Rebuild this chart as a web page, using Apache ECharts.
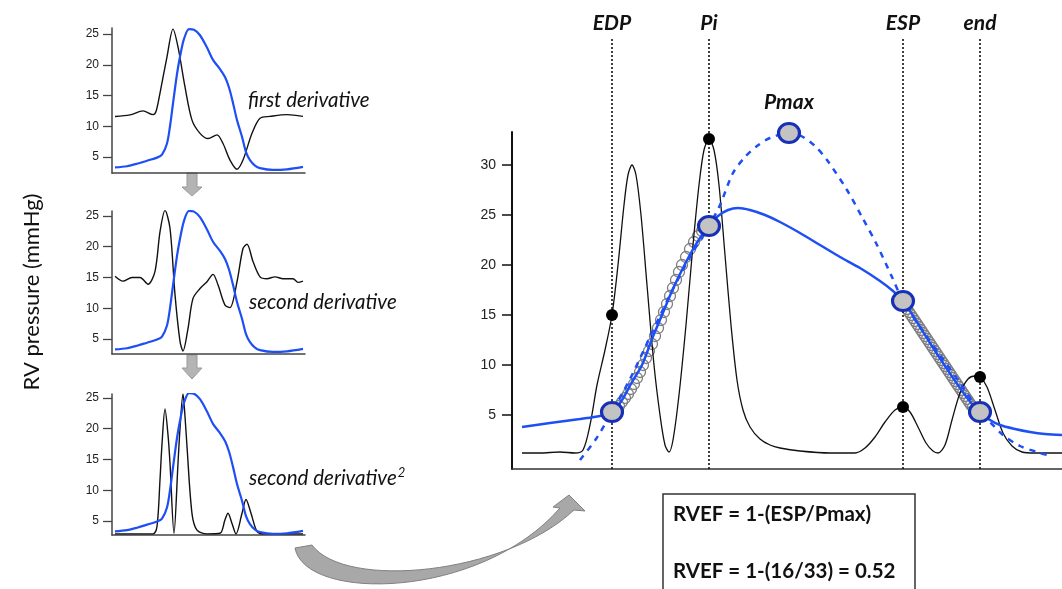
<!DOCTYPE html>
<html>
<head>
<meta charset="utf-8">
<script src="https://cdn.jsdelivr.net/npm/echarts@6/dist/echarts.min.js"></script>
<style>
html,body{margin:0;padding:0;background:#fff;}
#c{width:1062px;height:589px;}
</style>
</head>
<body>
<div id="c"></div>
<script>
// ---------- DATA ----------
// small panels: x = sample position, y = mmHg
const smallTicks = [5, 10, 15, 20, 25];
const pressureSmall = [[3,3.3],[15,3.5],[25,3.9],[35,4.4],[45,4.9],[50,5.4],[55,7.2],[58,10],[61,13.7],[65,18.5],[68,21.3],[72,24.2],[77,25.8],[82,25.7],[88,24.8],[95,22.8],[101,20.8],[108,19.3],[113,18.0],[117,16.3],[121,13.8],[125,11],[130,8.3],[134,5.8],[138,4.5],[143,3.6],[148,3.2],[161,2.9],[175,3.0],[191,3.4]];
const firstDeriv = [[3,11.6],[18,11.85],[31,12.5],[41,11.9],[44,12.4],[48,15.4],[55,21.3],[61,25.8],[66,22.9],[73,16.4],[80,11.0],[88,8.85],[96,8.0],[105,8.6],[111,7.2],[118,4.5],[125,3.0],[131,4.5],[140,8.85],[148,11.3],[158,11.6],[175,11.9],[191,11.6]];
const secondDeriv = [[3,15.2],[11,14.4],[20,15.0],[28,15.0],[36,13.9],[43,16.0],[48,22.4],[53,25.9],[58,23.0],[63,12.2],[68,4.6],[71,3.05],[76,6.7],[81,11.6],[88,13.2],[95,14.3],[101,15.5],[106,13.8],[113,10.5],[118,10.1],[125,14.3],[131,19.7],[135,20.4],[141,17.6],[148,15.1],[155,14.8],[163,15.1],[171,14.8],[181,14.8],[186,14.2],[191,14.4]];
const secondDerivSq = [[3,2.9],[41,2.9],[45,4.1],[48,11.7],[50,17.5],[53,23.2],[56,19],[58,14.4],[62,3.0],[66,14.4],[68,20],[71,25.65],[73,22],[75,17.1],[80,6.2],[85,3.5],[95,2.9],[108,3.0],[113,5.2],[116,6.25],[120,4.6],[124,2.9],[130,6.25],[134,8.5],[139,6.25],[145,3.3],[151,2.9],[191,2.9]];

// main panel
const mainTicks = [5, 10, 15, 20, 25, 30];
const mainBlack = [[10,1.2],[28,1.2],[48,1.3],[63,1.2],[71,1.5],[78,4],[85,8],[93,11.5],[100,15],[106,20],[112,26],[116,29],[120,30],[124,29],[129,25],[135,18],[142,10],[148,5],[153,2],[157,1.3],[161,2.5],[167,7],[174,14],[181,22],[187,28],[192,31.5],[197,32.6],[202,31.5],[207,28],[213,21],[219,14],[225,8.5],[231,5.5],[238,3.8],[248,2.6],[258,2.0],[268,1.7],[288,1.4],[318,1.2],[343,1.2],[353,1.7],[363,2.8],[373,4.3],[383,5.5],[391,5.8],[398,5.3],[406,3.8],[414,2.2],[421,1.4],[426,1.2],[433,2.0],[440,4.5],[448,7.2],[456,8.6],[463,8.9],[468,8.8],[475,7.8],[483,5.5],[491,3.2],[500,1.9],[510,1.3],[523,1.2],[550,1.2]];
const mainPressure = [[10,3.8],[38,4.2],[68,4.6],[88,4.9],[100,5.3],[110,6.5],[120,8.3],[130,10.0],[140,12.6],[150,15.0],[160,17.4],[170,19.5],[180,21.4],[190,23.0],[197,23.9],[206,24.9],[216,25.5],[226,25.7],[238,25.5],[253,25.0],[268,24.3],[288,23.2],[308,22.0],[328,20.8],[348,19.7],[368,18.4],[381,17.4],[391,16.4],[403,14.6],[418,12.2],[433,9.9],[448,7.7],[460,6.1],[468,5.3],[478,4.5],[488,4.0],[503,3.6],[518,3.3],[533,3.1],[550,3.0]];
const fitCurve = [[68,0.5],[84,2.6],[100,5.3],[118,8.6],[138,12.8],[158,17.0],[178,20.8],[197,23.9],[208,26.0],[221,29.2],[233,30.8],[245,31.9],[258,32.7],[277,33.2],[291,32.8],[303,31.9],[315,30.5],[335,27.5],[350,24.8],[365,22.0],[380,18.8],[391,16.4],[408,13.8],[428,11.0],[448,8.2],[468,5.3],[478,4.3],[491,3.0],[508,1.9],[528,1.2],[540,0.9]];
const fitPointsUp = [[101,5.3],[104,5.6],[107,5.9],[110,6.3],[113,6.7],[116,7.1],[119,7.6],[122,8.1],[125,8.7],[128,9.3],[131,10.0],[134,10.7],[137,11.4],[140,12.1],[143,12.9],[146,13.7],[149,14.5],[152,15.3],[155,16.1],[158,16.9],[161,17.7],[164,18.5],[167,19.3],[170,20.0],[174,20.8],[178,21.6],[182,22.3],[186,22.9],[190,23.4],[194,23.8]];
const fitPointsDown = [[393,16.0],[395,15.6],[397,15.3],[399,15.0],[401,14.7],[403,14.4],[405,14.1],[407,13.8],[409,13.5],[411,13.2],[413,12.9],[415,12.6],[417,12.3],[419,12.0],[421,11.7],[423,11.4],[425,11.1],[427,10.8],[429,10.5],[431,10.2],[433,9.9],[435,9.6],[437,9.3],[439,9.0],[441,8.7],[443,8.4],[445,8.1],[447,7.8],[449,7.5],[451,7.2],[453,6.9],[455,6.6],[457,6.3],[459,6.0],[461,5.8],[463,5.6],[465,5.4]];
const derivPeaks = [[100,15],[197,32.6],[391,5.8],[468,8.8]];
const keyPoints = [
  {name:'EDP', value:[100,5.3]},
  {name:'Pi', value:[197,23.9]},
  {name:'Pmax', value:[277,33.2]},
  {name:'ESP', value:[391,16.4]},
  {name:'end', value:[468,5.3]}
];
const markerNames = ['EDP','Pi','ESP','end'];
const markerX = [100, 197, 391, 468];

// ---------- CHART ----------
const BLUE = '#1e4ff5';
const chart = echarts.init(document.getElementById('c'), null, {renderer:'canvas'});

const smallGrids = [
  {left:112, top:28, width:193, height:145, min:2.4, max:25.98},
  {left:112, top:211, width:193, height:143, min:2.56, max:25.8},
  {left:112, top:394, width:193, height:141, min:2.72, max:25.65}
];
const grids = smallGrids.map(g => ({left:g.left, top:g.top, width:g.width, height:g.height}));
grids.push({left:512, top:132, width:550, height:337});
grids.push({left:512, top:38, width:550, height:431});

const xAxes = [], yAxes = [];
smallGrids.forEach((g, i) => {
  xAxes.push({type:'value', gridIndex:i, min:0, max:193, axisLine:{show:true, onZero:false, lineStyle:{color:'#444', width:1.5}}, axisTick:{show:false}, axisLabel:{show:false}, splitLine:{show:false}});
  yAxes.push({type:'value', gridIndex:i, min:g.min, max:g.max,
    axisLine:{show:true, lineStyle:{color:'#444', width:1.5}},
    axisTick:{show:true, length:9, customValues:smallTicks, lineStyle:{color:'#444', width:1.3}},
    axisLabel:{show:true, customValues:smallTicks, fontFamily:'Liberation Sans', fontSize:12, color:'#222', margin:13},
    splitLine:{show:false}});
});
xAxes.push({type:'value', gridIndex:3, min:0, max:550, axisLine:{show:true, onZero:false, lineStyle:{color:'#333', width:1.5}}, axisTick:{show:false}, axisLabel:{show:false}, splitLine:{show:false}});
yAxes.push({type:'value', gridIndex:3, min:-0.4, max:33.3,
  axisLine:{show:true, lineStyle:{color:'#111', width:2}},
  axisTick:{show:true, length:10, customValues:mainTicks, lineStyle:{color:'#111', width:1.5}},
  axisLabel:{show:true, customValues:mainTicks, fontFamily:'Liberation Sans', fontSize:14, color:'#222', margin:16},
  splitLine:{show:false}});
xAxes.push({type:'value', gridIndex:4, min:0, max:550, show:false});
yAxes.push({type:'value', gridIndex:4, min:0, max:1, show:false});

const lineBase = {type:'line', showSymbol:false, symbol:'none', smooth:0.3, silent:true};
const series = [];
[firstDeriv, secondDeriv, secondDerivSq].forEach((d, i) => {
  series.push(Object.assign({}, lineBase, {xAxisIndex:i, yAxisIndex:i, data:d, lineStyle:{color:'#111', width:1.4}, z:3}));
  series.push(Object.assign({}, lineBase, {xAxisIndex:i, yAxisIndex:i, data:pressureSmall, lineStyle:{color:BLUE, width:2.2}, z:4}));
});
// main
series.push({type:'line', xAxisIndex:4, yAxisIndex:4, data:[], silent:true,
  markLine:{symbol:'none', silent:true, animation:false,
    lineStyle:{color:'#111', width:1.6, type:[2,2]},
    label:{show:true, position:'end', formatter:'{b}', fontFamily:'Lato', fontStyle:'italic', fontWeight:'bold', fontSize:21, color:'#111', distance:4},
    data: markerNames.map((n, i) => ({name:n, xAxis:markerX[i]}))
  }, z:1});
series.push({type:'scatter', xAxisIndex:3, yAxisIndex:3, data:fitPointsUp.concat(fitPointsDown), symbol:'circle', symbolSize:11,
  itemStyle:{color:'rgba(255,255,255,0)', borderColor:'#7e7e7e', borderWidth:1.3, opacity:1}, silent:true, z:2});
series.push(Object.assign({}, lineBase, {xAxisIndex:3, yAxisIndex:3, data:mainBlack, lineStyle:{color:'#111', width:1.3}, z:3}));
series.push(Object.assign({}, lineBase, {xAxisIndex:3, yAxisIndex:3, data:mainPressure, lineStyle:{color:BLUE, width:2.5}, z:4}));
series.push(Object.assign({}, lineBase, {xAxisIndex:3, yAxisIndex:3, data:fitCurve, lineStyle:{color:BLUE, width:2.5, type:[6,6]}, z:4}));
series.push({type:'scatter', xAxisIndex:3, yAxisIndex:3, data:derivPeaks, symbolSize:12, itemStyle:{color:'#000', opacity:1}, silent:true, z:5});
series.push({type:'scatter', xAxisIndex:3, yAxisIndex:3, data:keyPoints, symbol:'circle', symbolSize:[21,19],
  itemStyle:{color:'#c3c3c3', borderColor:'#1630b8', borderWidth:3, opacity:1}, silent:true, z:6,
  label:{show:true, position:'top', distance:9, formatter: p => p.name === 'Pmax' ? 'Pmax' : '',
    fontFamily:'Lato', fontStyle:'italic', fontWeight:'bold', fontSize:21, color:'#111'}});
// curved grey arrow (decoration)
series.push({type:'custom', coordinateSystem:'none', data:[0], silent:true, z:1,
  renderItem: function(){
    return {type:'path', shape:{pathData:'M295,548 C305,602 480,600 560,508 L553,507 L569,495 L585,511 L574,510 C505,575 345,590 312,545 Z'},
      style:{fill:'#a8a8a8', stroke:'#808080', lineWidth:1}};
  }});

const graphic = [
  {type:'text', x:32, y:292, rotation:Math.PI/2, style:{text:'RV pressure (mmHg)', fontFamily:'Lato', fontSize:22, fill:'#111', align:'center', verticalAlign:'middle'}},
  {type:'text', x:248, y:100, style:{text:'first derivative', fontFamily:'Lato', fontStyle:'italic', fontSize:20.5, fill:'#111', verticalAlign:'middle'}},
  {type:'text', x:249, y:302, style:{text:'second derivative', fontFamily:'Lato', fontStyle:'italic', fontSize:20.5, fill:'#111', verticalAlign:'middle'}},
  {type:'text', x:249, y:477, style:{text:'{a|second derivative}{b|2}', fontFamily:'Lato', fontStyle:'italic', fontSize:20.5, fill:'#111', verticalAlign:'middle',
    rich:{a:{fontFamily:'Lato', fontStyle:'italic', fontSize:20.5, fill:'#111', verticalAlign:'bottom'}, b:{fontFamily:'Lato', fontStyle:'italic', fontSize:13, fill:'#111', verticalAlign:'top', padding:[0,0,9,1]}}}},
  {type:'polygon', shape:{points:[[187,173],[197,173],[197,187],[202,187],[192,196],[182,187],[187,187]]}, style:{fill:'#b4b4b4', stroke:'#9a9a9a', lineWidth:1}},
  {type:'polygon', shape:{points:[[187,355],[197,355],[197,368],[202,368],[192,379],[182,368],[187,368]]}, style:{fill:'#b4b4b4', stroke:'#9a9a9a', lineWidth:1}},
  {type:'rect', shape:{x:663, y:494, width:252, height:110}, style:{fill:'#fff', stroke:'#333', lineWidth:1.5}},
  {type:'text', x:673, y:514, style:{text:'RVEF = 1-(ESP/Pmax)', fontFamily:'Lato', fontWeight:'bold', fontSize:20.5, fill:'#111', verticalAlign:'middle'}},
  {type:'text', x:673, y:571, style:{text:'RVEF = 1-(16/33) = 0.52', fontFamily:'Lato', fontWeight:'bold', fontSize:20.5, fill:'#111', verticalAlign:'middle'}}
];

chart.setOption({animation:false, grid:grids, xAxis:xAxes, yAxis:yAxes, series:series, graphic:graphic});
</script>
</body>
</html>
